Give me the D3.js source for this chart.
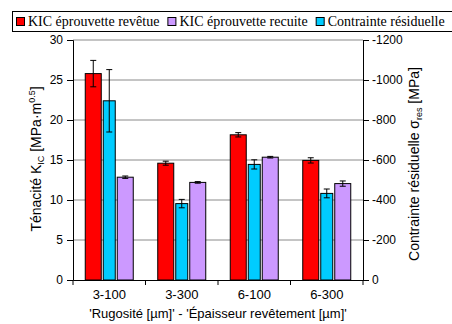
<!DOCTYPE html>
<html>
<head>
<meta charset="utf-8">
<script src="https://cdn.jsdelivr.net/npm/d3@7/dist/d3.min.js"></script>
<style>
  body { margin: 0; background: #fff; }
  svg { display: block; }
  .tick text { font-family: 'Liberation Sans', Arial, sans-serif; font-size: 12px; fill: #000; }
  .axis-title { font-family: 'Liberation Sans', Arial, sans-serif; font-size: 14px; fill: #000; }
  .legend-text { font-family: 'Liberation Serif', 'Times New Roman', serif; font-size: 14px; fill: #000; }
</style>
</head>
<body>
<div id="chart"></div>
<script>
const categories = ['3-100', '3-300', '6-100', '6-300'];
const kicRevetue = [25.8, 14.6, 18.15, 14.95];
const kicRevetueErr = [1.65, 0.25, 0.27, 0.33];
const kicRecuite = [12.85, 12.2, 15.35, 12.05];
const kicRecuiteErr = [0.15, 0.1, 0.1, 0.33];
const contrainte = [-896, -382, -578, -433];
const contrainteErr = [156, 21, 23, 22];
const leftTicks = [0, 5, 10, 15, 20, 25, 30];
const rightTicks = [0, -200, -400, -600, -800, -1000, -1200];

const width = 452, height = 324;
const margin = { top: 40, right: 89, bottom: 44, left: 73 };
const plotW = width - margin.left - margin.right;
const plotH = height - margin.top - margin.bottom;

const svg = d3.select('#chart').append('svg')
    .attr('width', width)
    .attr('height', height);

const x = d3.scaleBand().domain(categories).range([margin.left, margin.left + plotW]);
const yLeft = d3.scaleLinear().domain([0, 30]).range([margin.top + plotH, margin.top]);
const yRight = d3.scaleLinear().domain([0, -1200]).range([margin.top + plotH, margin.top]);

// gridlines
svg.append('g')
    .selectAll('line')
    .data(leftTicks.slice(1))
    .enter()
    .append('line')
    .attr('x1', margin.left)
    .attr('x2', margin.left + plotW)
    .attr('y1', d => yLeft(d))
    .attr('y2', d => yLeft(d))
    .attr('stroke', '#8a8a8a')
    .attr('stroke-width', 1);

// bars: red, cyan, purple within each group
const wideBar = 16, narrowBar = 12, gap = 2;
const clusterW = wideBar * 2 + narrowBar + gap * 2;
const groupStart = c => x(c) + x.bandwidth() / 2 - clusterW / 2;

const series = [
    { values: kicRevetue, err: kicRevetueErr, scale: yLeft, color: '#ff0000', offset: 0, w: wideBar },
    { values: contrainte, err: contrainteErr, scale: yRight, color: '#00ccff', offset: wideBar + gap, w: narrowBar },
    { values: kicRecuite, err: kicRecuiteErr, scale: yLeft, color: '#cc99ff', offset: wideBar + gap + narrowBar + gap, w: wideBar }
];

series.forEach(s => {
    const g = svg.append('g');
    g.selectAll('rect')
        .data(s.values)
        .enter()
        .append('rect')
        .attr('x', (d, i) => groupStart(categories[i]) + s.offset)
        .attr('y', d => s.scale(d))
        .attr('width', s.w)
        .attr('height', d => s.scale(0) - s.scale(d))
        .attr('fill', s.color)
        .attr('stroke', '#000')
        .attr('stroke-width', 1);

    // error bars
    const eb = g.selectAll('g.err')
        .data(s.values)
        .enter()
        .append('g')
        .attr('class', 'err');
    const cx = (d, i) => groupStart(categories[i]) + s.offset + s.w / 2;
    eb.append('line')
        .attr('x1', cx).attr('x2', cx)
        .attr('y1', (d, i) => s.scale(d + s.err[i] * Math.sign(d)))
        .attr('y2', (d, i) => s.scale(d - s.err[i] * Math.sign(d)))
        .attr('stroke', '#000');
    [1, -1].forEach(sg => {
        eb.append('line')
            .attr('x1', (d, i) => cx(d, i) - 3).attr('x2', (d, i) => cx(d, i) + 3)
            .attr('y1', (d, i) => s.scale(d + sg * s.err[i] * Math.sign(d)))
            .attr('y2', (d, i) => s.scale(d + sg * s.err[i] * Math.sign(d)))
            .attr('stroke', '#000');
    });
});

// left axis
svg.append('g')
    .attr('transform', 'translate(' + margin.left + ',0)')
    .call(d3.axisLeft(yLeft).tickValues(leftTicks).tickSize(6).tickPadding(4))
    .call(g => g.selectAll('path, line').attr('stroke', '#000'));

// right axis
svg.append('g')
    .attr('transform', 'translate(' + (margin.left + plotW) + ',0)')
    .call(d3.axisRight(yRight).tickValues(rightTicks).tickSize(6).tickPadding(3)
        .tickFormat(d => String(d)))
    .call(g => g.selectAll('path, line').attr('stroke', '#000'));

// bottom axis
svg.append('g')
    .attr('transform', 'translate(0,' + (margin.top + plotH) + ')')
    .call(d3.axisBottom(x).tickSize(0).tickPadding(10))
    .call(g => g.select('path').attr('stroke', '#000'))
    .call(g => g.selectAll('.tick text').style('font-size', '13px'));

// category separator ticks
svg.append('g')
    .selectAll('line')
    .data(categories.concat(['end']))
    .enter()
    .append('line')
    .attr('x1', (d, i) => margin.left + i * x.step())
    .attr('x2', (d, i) => margin.left + i * x.step())
    .attr('y1', margin.top + plotH)
    .attr('y2', margin.top + plotH + 5)
    .attr('stroke', '#000');

// axis titles
svg.append('text')
    .attr('class', 'axis-title')
    .style('font-size', '13px')
    .attr('x', margin.left + plotW / 2)
    .attr('y', 318)
    .attr('text-anchor', 'middle')
    .text("'Rugosité [µm]' - 'Épaisseur revêtement [µm]'");

const leftTitle = svg.append('text')
    .attr('class', 'axis-title')
    .attr('text-anchor', 'middle')
    .attr('transform', 'translate(41,159) rotate(-90)');
leftTitle.append('tspan').text('Ténacité K');
leftTitle.append('tspan').attr('font-size', '9px').attr('dy', 3).text('IC');
leftTitle.append('tspan').attr('dy', -3).text(' [MPa·m');
leftTitle.append('tspan').attr('font-size', '9px').attr('dy', -6).text('0.5');
leftTitle.append('tspan').attr('dy', 6).text(']');

const rightTitle = svg.append('text')
    .attr('class', 'axis-title')
    .attr('text-anchor', 'middle')
    .attr('transform', 'translate(419,164) rotate(-90)');
rightTitle.append('tspan').text('Contrainte résiduelle σ');
rightTitle.append('tspan').attr('font-size', '9px').attr('dy', 3).text('res');
rightTitle.append('tspan').attr('dy', -3).text(' [MPa]');

// legend
const legendItems = [
    { label: 'KIC éprouvette revêtue', color: '#ff0000' },
    { label: 'KIC éprouvette recuite', color: '#cc99ff' },
    { label: 'Contrainte résiduelle', color: '#00ccff' }
];
svg.append('rect')
    .attr('x', 12.5).attr('y', 11.5)
    .attr('width', 450).attr('height', 20)
    .attr('fill', '#fff')
    .attr('stroke', '#000');
let lx = 16;
legendItems.forEach(item => {
    svg.append('rect')
        .attr('x', lx + 0.5).attr('y', 17.5)
        .attr('width', 8).attr('height', 8)
        .attr('fill', item.color)
        .attr('stroke', '#000');
    const t = svg.append('text')
        .attr('class', 'legend-text')
        .attr('x', lx + 12)
        .attr('y', 26)
        .text(item.label);
    lx += 12 + t.node().getComputedTextLength() + 8;
});
</script>
</body>
</html>
